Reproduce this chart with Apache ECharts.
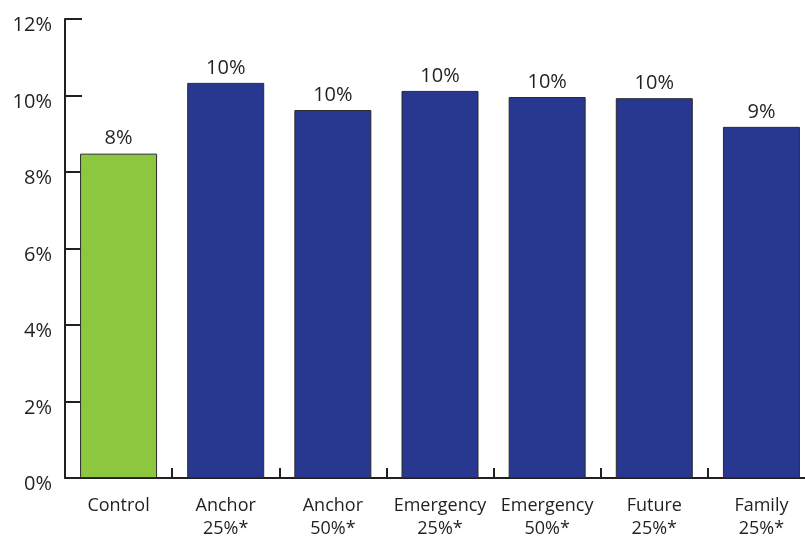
<!DOCTYPE html>
<html>
<head>
<meta charset="utf-8">
<script src="https://cdn.jsdelivr.net/npm/echarts@6/dist/echarts.min.js"></script>
<style>
  html, body { margin: 0; padding: 0; background: #fff; }
  #chart { width: 805px; height: 538px; }
</style>
</head>
<body>
<div id="chart"></div>
<script>
// Treatment groups along the x axis
const categories = ['Control', 'Anchor\n25%*', 'Anchor\n50%*', 'Emergency\n25%*', 'Emergency\n50%*', 'Future\n25%*', 'Family\n25%*'];
// Response rate for each group, in percent
const rates = [8.48, 10.33, 9.62, 10.12, 9.96, 9.93, 9.18];
// Y axis range and step (percent)
const yMin = 0;
const yMax = 12;
const yStep = 2;

const INK = '#231f20';
const GREEN = '#8dc63f';
const BLUE = '#283891';
const FONT = '"Open Sans", sans-serif';

const chart = echarts.init(document.getElementById('chart'), null, { renderer: 'canvas' });

chart.setOption({
  animation: false,
  backgroundColor: '#ffffff',
  grid: {
    left: 65, top: 19, height: 459, width: 750,
    containLabel: false, outerBoundsMode: 'none'
  },
  xAxis: {
    type: 'category',
    data: categories,
    axisLine: { lineStyle: { color: INK, width: 2 } },
    axisTick: { show: true, inside: true, length: 10, lineStyle: { color: INK, width: 2 } },
    axisLabel: {
      color: INK, fontFamily: FONT, fontSize: 18, lineHeight: 23, margin: 16, interval: 0
    }
  },
  yAxis: {
    type: 'value',
    min: yMin,
    max: yMax,
    interval: yStep,
    splitLine: { show: false },
    axisLine: { show: true, lineStyle: { color: INK, width: 2 } },
    axisTick: { show: true, inside: true, length: 17, lineStyle: { color: INK, width: 2 } },
    axisLabel: {
      color: INK, fontFamily: FONT, fontSize: 20, margin: 13,
      verticalAlign: 'top', lineHeight: 13,
      formatter: v => v + '%'
    }
  },
  series: [{
    type: 'bar',
    data: rates.map((v, i) => ({
      value: v,
      itemStyle: { color: i === 0 ? GREEN : BLUE }
    })),
    barWidth: 77,
    itemStyle: { borderColor: '#2b2b2b', borderWidth: 1 },
    label: {
      show: true,
      position: 'top',
      distance: 5,
      color: INK,
      fontFamily: FONT,
      fontSize: 20,
      formatter: p => Math.round(p.value) + '%'
    }
  }]
});
</script>
</body>
</html>
